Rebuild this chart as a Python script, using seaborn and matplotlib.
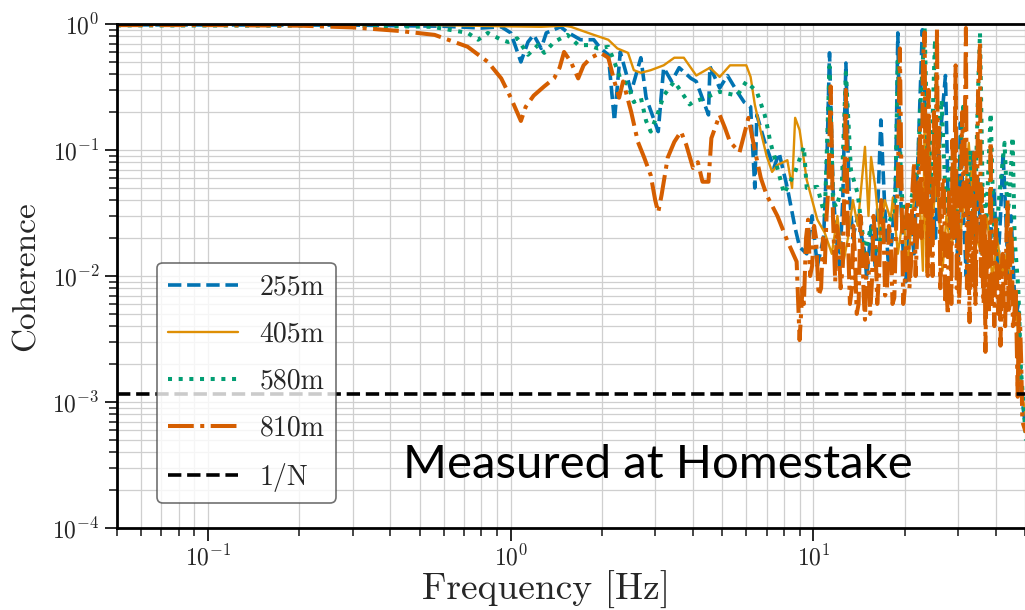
import numpy as np
import pandas as pd
import matplotlib
matplotlib.use('Agg')
import matplotlib.pyplot as plt
import seaborn as sns

# Coherence between seismometer pairs at Homestake
freq_255 = [0.05, 0.3, 0.6, 0.8, 0.93, 1.0, 1.08, 1.14, 1.19, 1.26, 1.31, 1.46, 1.54, 1.7, 1.88,
            1.98, 2.1, 2.2, 2.3, 2.5, 2.69, 2.8, 3.07, 3.2, 3.4, 3.6, 3.94, 4.1, 4.5, 4.55,
            4.9, 5.2, 5.6, 5.9, 6.2, 6.4, 6.5, 6.9, 7.4, 7.7, 8.2, 8.7, 9.0, 9.5, 9.9,
            10.3, 10.8, 11.1, 11.3, 11.6, 11.9, 12.2, 12.5, 12.8, 13.1, 13.5, 14.0, 14.8, 15.0,
            15.5, 16.0, 16.4, 16.7, 17.2, 17.7, 18.2, 18.7, 19.0, 19.4, 19.8, 20.2, 20.8, 21.5,
            22.2, 22.9, 23.4, 24.0, 24.6, 25.3, 26.0, 27.3, 27.8, 28.5, 29.3, 30.0, 30.6, 31.3,
            32.0, 32.8, 33.6, 34.3, 35.0, 36.0, 37.0, 38.5, 39.5, 40.5, 41.5, 42.3, 43.2, 44.0,
            45.0, 46.5, 47.5, 48.5, 50.7]
coh_255 = [0.985, 0.98, 0.96, 0.93, 0.95, 0.85, 0.50, 0.72, 0.82, 0.64, 0.85, 0.95, 0.86, 0.75, 0.75,
           0.64, 0.57, 0.17, 0.60, 0.29, 0.54, 0.26, 0.14, 0.45, 0.35, 0.45, 0.37, 0.35, 0.19, 0.46,
           0.31, 0.39, 0.29, 0.24, 0.22, 0.05, 0.19, 0.116, 0.072, 0.095, 0.05, 0.024, 0.017, 0.015, 0.03,
           0.012, 0.02, 0.1, 0.59, 0.05, 0.02, 0.012, 0.04, 0.49, 0.05, 0.02, 0.03, 0.015, 0.0093,
           0.025, 0.012, 0.05, 0.173, 0.035, 0.012, 0.02, 0.06, 0.85, 0.045, 0.015, 0.009, 0.03, 0.015,
           0.1, 0.9, 0.2, 0.015, 0.05, 0.02, 0.1, 0.39, 0.05, 0.02, 0.06, 0.012, 0.164, 0.03,
           0.01, 0.04, 0.10, 0.02, 0.06, 0.012, 0.03, 0.02, 0.05, 0.01, 0.03, 0.095, 0.031, 0.01,
           0.03, 0.0045, 0.006, 0.0013, 0.0005]

freq_405 = [0.05, 0.5, 0.93, 1.26, 1.5, 1.58, 1.88, 2.1, 2.25, 2.44, 2.55, 2.69, 2.9, 3.2, 3.47,
            3.73, 4.1, 4.55, 4.9, 5.3, 6.0, 6.2, 6.4, 6.7, 7.0, 7.3, 7.6, 8.2, 8.5, 8.7,
            9.0, 9.5, 10.3, 10.9, 11.5, 12.0, 12.5, 13.0, 13.5, 14.0, 14.8, 15.2, 15.5, 16.0, 16.6,
            17.2, 18.0, 18.3, 19.0, 19.8, 20.5, 21.3, 22.3, 23.0, 23.3, 23.6, 24.1, 24.8, 25.5,
            26.7, 27.5, 28.5, 29.5, 30.5, 32.0, 32.6, 33.5, 34.5, 36.0, 37.5, 39.0, 40.5, 42.0,
            43.5, 45.5, 47.0, 48.5, 50.7]
coh_405 = [0.99, 0.985, 0.96, 0.95, 0.97, 0.95, 0.82, 0.75, 0.64, 0.59, 0.43, 0.41, 0.43, 0.47, 0.54,
           0.54, 0.39, 0.45, 0.38, 0.47, 0.47, 0.38, 0.23, 0.14, 0.09, 0.067, 0.076, 0.083, 0.05, 0.18,
           0.144, 0.058, 0.028, 0.022, 0.015, 0.03, 0.012, 0.02, 0.04, 0.025, 0.106, 0.03, 0.088, 0.051, 0.02,
           0.04, 0.028, 0.042, 0.015, 0.03, 0.012, 0.035, 0.058, 0.011, 0.173, 0.0106, 0.127, 0.03, 0.06,
           0.011, 0.03, 0.015, 0.04, 0.02, 0.06, 0.114, 0.045, 0.02, 0.015, 0.03, 0.0093, 0.02, 0.01,
           0.015, 0.008, 0.005, 0.0013, 0.0007]

freq_580 = [0.05, 0.3, 0.55, 0.72, 0.78, 0.84, 0.93, 0.98, 1.05, 1.14, 1.23, 1.29, 1.39, 1.54, 1.67,
            1.8, 1.94, 2.1, 2.2, 2.3, 2.44, 2.55, 2.69, 2.8, 2.9, 3.07, 3.2, 3.47, 3.73, 3.9,
            4.0, 4.4, 4.9, 5.6, 6.0, 6.5, 6.9, 7.0, 7.2, 7.6, 8.0, 8.7, 9.3, 9.5, 10.3,
            10.9, 11.3, 11.6, 11.9, 12.4, 12.8, 13.3, 14.0, 14.8, 15.5, 16.2, 17.0, 18.0, 18.6,
            19.0, 19.5, 20.2, 21.0, 22.1, 22.7, 23.3, 23.8, 24.4, 25.2, 25.8, 26.5, 27.5, 28.5,
            29.5, 31.2, 32.0, 33.0, 34.0, 35.0, 35.5, 36.2, 37.3, 38.5, 39.3, 40.0, 41.0, 42.8,
            43.8, 44.6, 45.5, 46.2, 47.5, 48.5, 50.7]
coh_580 = [0.975, 0.97, 0.95, 0.85, 0.75, 0.85, 0.75, 0.72, 0.77, 0.57, 0.68, 0.59, 0.72, 0.82, 0.68,
           0.68, 0.64, 0.66, 0.50, 0.37, 0.33, 0.24, 0.26, 0.17, 0.14, 0.20, 0.27, 0.35, 0.27, 0.23,
           0.24, 0.26, 0.29, 0.27, 0.35, 0.29, 0.19, 0.164, 0.116, 0.072, 0.045, 0.067, 0.106, 0.05, 0.051,
           0.03, 0.46, 0.04, 0.035, 0.05, 0.41, 0.069, 0.045, 0.015, 0.025, 0.012, 0.03, 0.028, 0.03,
           0.52, 0.05, 0.022, 0.04, 0.069, 0.3, 0.93, 0.1, 0.05, 0.75, 0.1, 0.25, 0.03, 0.095,
           0.02, 0.22, 0.04, 0.1, 0.02, 0.3, 0.85, 0.05, 0.03, 0.196, 0.03, 0.015, 0.04, 0.114,
           0.03, 0.05, 0.127, 0.02, 0.008, 0.0018, 0.0004]

freq_810 = [0.05, 0.1, 0.2, 0.3, 0.43, 0.56, 0.72, 0.84, 0.93, 1.0, 1.08, 1.12, 1.19, 1.29, 1.39,
            1.45, 1.5, 1.58, 1.67, 1.74, 1.84, 1.98, 2.1, 2.2, 2.28, 2.35, 2.5, 2.63, 2.76, 2.9,
            3.0, 3.07, 3.15, 3.3, 3.47, 3.65, 3.8, 4.0, 4.15, 4.3, 4.5, 4.6, 4.9, 5.1, 5.3,
            5.7, 6.1, 6.4, 6.7, 7.0, 7.6, 8.2, 8.8,
            9.0, 9.2, 9.3, 9.45, 9.6, 9.75, 9.9, 10.05, 10.2, 10.4, 10.6, 10.75, 10.9, 11.05, 11.2,
            11.4, 11.6, 11.8, 11.95, 12.1, 12.3, 12.5, 12.65, 12.8, 13.0, 13.2, 13.4, 13.55, 13.7,
            13.9, 14.1, 14.3, 14.5, 14.65, 14.8, 15.0, 15.2, 15.4, 15.6, 15.8, 16.0, 16.25, 16.5,
            16.75, 17.0, 17.25, 17.5, 17.75, 18.0, 18.25, 18.5, 18.8, 19.0, 19.3, 19.6, 19.8, 20.0,
            20.25, 20.5, 20.75, 21.0, 21.25, 21.5, 21.75, 22.0, 22.25, 22.5, 22.75, 23.0, 23.3, 23.5,
            23.7, 23.85, 24.0, 24.25, 24.5, 24.75, 25.0, 25.3, 25.6, 25.8, 26.0, 26.25, 26.5, 26.75,
            27.0, 27.25, 27.5, 27.8, 28.05, 28.3, 28.55, 28.8, 29.1, 29.5, 29.75, 30.0, 30.25, 30.5,
            30.75, 31.0, 31.4, 31.9, 32.15, 32.4, 32.6, 32.8, 33.05, 33.3, 33.65, 34.0, 34.3, 34.6,
            34.8, 35.0, 35.5, 35.75, 36.0, 36.25, 36.5, 36.75, 37.0, 37.3, 37.6, 38.0, 38.5, 38.85,
            39.2, 39.6, 40.0, 40.4, 40.8, 41.1, 41.5, 41.85, 42.2, 42.6, 43.0, 43.4, 43.8, 44.1,
            44.5, 44.85, 45.2, 45.6, 46.0, 46.6, 47.3, 47.7, 48.2, 48.6, 49.0, 50.0, 50.7]
coh_810 = [0.98, 0.98, 0.97, 0.94, 0.88, 0.82, 0.66, 0.50, 0.37, 0.26, 0.17, 0.22, 0.27, 0.32, 0.37,
           0.45, 0.60, 0.50, 0.37, 0.47, 0.54, 0.59, 0.54, 0.35, 0.26, 0.35, 0.20, 0.116, 0.087, 0.063,
           0.040, 0.032, 0.044, 0.087, 0.116, 0.14, 0.11, 0.072, 0.08, 0.056, 0.056, 0.124, 0.19, 0.15, 0.116,
           0.096, 0.18, 0.10, 0.06, 0.044, 0.030, 0.019, 0.013,
           0.0031, 0.008, 0.006, 0.02, 0.028, 0.01, 0.012, 0.025, 0.02, 0.007, 0.008, 0.02, 0.012, 0.03, 0.05,
           0.32, 0.03, 0.009, 0.025, 0.02, 0.008, 0.012, 0.05, 0.30, 0.02, 0.006, 0.008, 0.025, 0.015,
           0.005, 0.006, 0.03, 0.02, 0.007, 0.0045, 0.015, 0.012, 0.005, 0.009, 0.03, 0.02, 0.006, 0.011,
           0.04, 0.03, 0.007, 0.008, 0.025, 0.02, 0.006, 0.0067, 0.03, 0.05, 0.64, 0.03, 0.006, 0.0075,
           0.03, 0.04, 0.008, 0.012, 0.05, 0.08, 0.01, 0.02, 0.06, 0.15, 0.02, 0.5, 0.86, 0.03,
           0.1, 0.01, 0.3, 0.015, 0.04, 0.01, 0.2, 0.05, 0.93, 0.04, 0.15, 0.008, 0.02, 0.06,
           0.06, 0.006, 0.008, 0.0049, 0.05, 0.03, 0.006, 0.12, 0.02, 0.47, 0.008, 0.05, 0.006, 0.01,
           0.06, 0.2, 0.03, 0.93, 0.008, 0.06, 0.01, 0.0043, 0.05, 0.03, 0.008, 0.1, 0.006, 0.02,
           0.08, 0.3, 0.72, 0.01, 0.05, 0.01, 0.006, 0.03, 0.0025, 0.01, 0.02, 0.005, 0.116, 0.006,
           0.01, 0.004, 0.03, 0.01, 0.005, 0.012, 0.0028, 0.01, 0.015, 0.005, 0.004, 0.02, 0.04, 0.005,
           0.006, 0.025, 0.02, 0.004, 0.0045, 0.008, 0.0011, 0.005, 0.004, 0.002, 0.0007, 0.0006, 0.00055]

depths = ['255m', '405m', '580m', '810m']
one_over_n = 1.16e-3

series = {
    '255m': (freq_255, coh_255),
    '405m': (freq_405, coh_405),
    '580m': (freq_580, coh_580),
    '810m': (freq_810, coh_810),
}
styles = {
    '255m': dict(linestyle='--', lw=2.6),
    '405m': dict(linestyle='-', lw=1.7),
    '580m': dict(linestyle=':', lw=2.9),
    '810m': dict(linestyle='-.', lw=2.9),
}

sns.set_style('ticks')
plt.rcParams['font.family'] = 'serif'
plt.rcParams['font.serif'] = ['cmr10']
plt.rcParams['mathtext.fontset'] = 'cm'
plt.rcParams['axes.formatter.use_mathtext'] = True
palette = sns.color_palette('colorblind', 4)

fig = plt.figure(figsize=(10.25, 6.1), dpi=100)
ax = fig.add_axes([117 / 1025, 1 - 528 / 610, 908 / 1025, 504 / 610])

for i, d in enumerate(depths):
    f, c = series[d]
    df = pd.DataFrame({'Frequency': f, 'Coherence': c})
    sns.lineplot(data=df, x='Frequency', y='Coherence', ax=ax, color=palette[i],
                 estimator=None, sort=False, label=d, **styles[d])

ax.axhline(one_over_n, color='black', linestyle='--', lw=2.6, label='1/N')

ax.set_xscale('log')
ax.set_yscale('log')
ax.set_xlim(0.05, 50)
ax.set_ylim(1e-4, 1)

ax.grid(True, which='both', color='#cfcfcf', lw=0.9)
ax.set_axisbelow(True)
for side in ['left', 'bottom', 'top']:
    ax.spines[side].set_linewidth(2)
    ax.spines[side].set_color('black')
ax.spines['right'].set_visible(False)
ax.tick_params(which='major', direction='out', length=9, width=1.4, labelsize=17)
ax.tick_params(which='minor', direction='out', length=6, width=1.2)
ax.tick_params(axis='y', right=False)

ax.set_xlabel('Frequency [Hz]', fontsize=27)
ax.xaxis.set_label_coords(0.472, -0.085)
ax.set_ylabel('Coherence', fontsize=24, labelpad=8)

leg = ax.legend(loc='lower left', bbox_to_anchor=(0.044, 0.05), borderaxespad=0,
                fontsize=20, handlelength=2.5, labelspacing=0.75, framealpha=0.8, fancybox=True)
leg.get_frame().set_edgecolor('0.3')
leg.get_frame().set_linewidth(1.2)

ax.text(0.315, 0.099, 'Measured at Homestake', transform=ax.transAxes,
        fontsize=34, family='Lato', va='baseline', ha='left', color='black')

plt.savefig('out.png', dpi=100)
